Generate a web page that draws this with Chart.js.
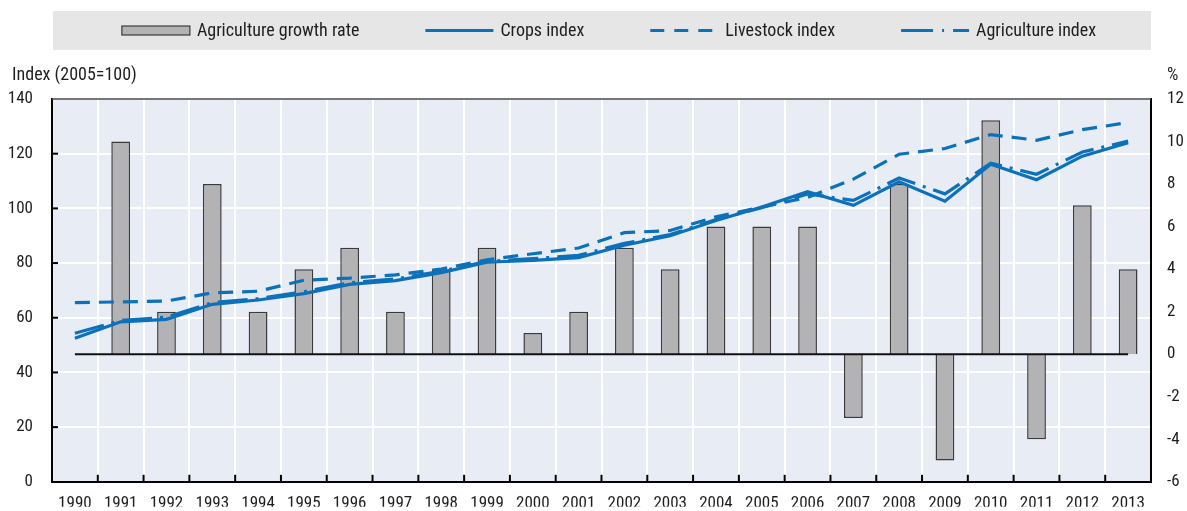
<!DOCTYPE html>
<html>
<head>
<meta charset="utf-8">
<script src="https://cdn.jsdelivr.net/npm/chart.js@4.4.1/dist/chart.umd.min.js"></script>
<style>
  html, body { margin: 0; padding: 0; background: #ffffff; }
  #wrap { width: 1187px; height: 511px; }
</style>
</head>
<body>
<div id="wrap"><canvas id="c" width="1187" height="511"></canvas></div>
<script>
// ---- Data ----
const years = ['1990','1991','1992','1993','1994','1995','1996','1997','1998','1999','2000','2001',
               '2002','2003','2004','2005','2006','2007','2008','2009','2010','2011','2012','2013'];
const growthRate = [null, 10, 2, 8, 2, 4, 5, 2, 4, 5, 1, 2, 5, 4, 6, 6, 6, -3, 8, -5, 11, -4, 7, 4];
const cropsIndex = [52.5, 58.5, 59.4, 64.9, 66.5, 68.8, 72.2, 73.6, 76.5, 80.3, 81.0, 82.0,
                    86.5, 90.0, 95.6, 100.5, 106.1, 101.1, 109.7, 102.6, 116.1, 110.5, 119.1, 124.0];
const livestockIndex = [65.5, 65.8, 66.1, 69.1, 69.7, 73.7, 74.5, 75.7, 77.8, 81.2, 83.4, 85.5,
                        91.1, 91.9, 96.9, 100.5, 104.0, 110.7, 119.8, 121.9, 127.0, 124.9, 128.8, 131.4];
const agricultureIndex = [54.3, 59.0, 60.2, 65.5, 67.0, 69.5, 72.8, 74.2, 77.0, 80.6, 81.6, 82.8,
                          87.2, 90.4, 95.9, 100.2, 105.3, 102.9, 111.1, 105.3, 116.5, 112.5, 120.6, 124.6];
const zeroLine = years.map(() => 0);
const leftTitle = 'Index (2005=100)';
const rightTitle = '%';

// ---- Styles ----
const FONT = "Roboto, 'Liberation Sans', sans-serif";
const STRETCH = 'condensed';
const BLUE = '#0b71bb';
const PLOT_BG = '#e8ecf5';
const TEXT = '#1e1e1e';

const framePlugin = {
  id: 'frame',
  beforeDraw(chart) {
    const c = chart.ctx, a = chart.chartArea;
    c.save();
    c.fillStyle = PLOT_BG;
    c.fillRect(a.left, a.top, a.right - a.left, a.bottom - a.top);
    c.restore();
  },
  afterDraw(chart) {
    const c = chart.ctx, a = chart.chartArea;
    const xs = chart.scales.x, ys = chart.scales.y;
    c.save();
    // top frame
    c.strokeStyle = '#4a4a4a';
    c.lineWidth = 1.5;
    c.beginPath(); c.moveTo(a.left, a.top); c.lineTo(a.right, a.top); c.stroke();
    // inward ticks
    c.strokeStyle = '#000';
    c.lineWidth = 2;
    for (let i = 1; i < years.length; i++) {
      const px = (xs.getPixelForValue(i - 1) + xs.getPixelForValue(i)) / 2;
      c.beginPath(); c.moveTo(px, a.bottom); c.lineTo(px, a.bottom - 7); c.stroke();
    }
    ys.ticks.forEach(t => {
      const py = ys.getPixelForValue(t.value);
      if (py > a.top + 1 && py < a.bottom - 1) {
        c.beginPath(); c.moveTo(a.left, py); c.lineTo(a.left + 6, py); c.stroke();
      }
    });
    // axis titles
    c.fillStyle = TEXT;
    c.font = STRETCH + ' 18px ' + FONT;
    c.textBaseline = 'middle';
    c.textAlign = 'left';
    c.fillText(leftTitle, 12, 75);
    c.fillText(rightTitle, a.right + 16, 75);

    // legend
    const items = chart.data.datasets.filter(d => !d.hideInLegend);
    c.fillStyle = '#e6e6e6';
    c.fillRect(a.left + 1, 11, a.right - a.left - 1, 39);
    const iconW = 68, gap = 7, itemGap = 66;
    c.font = STRETCH + ' 18px ' + FONT;
    const widths = items.map(d => iconW + gap + c.measureText(d.label).width);
    const total = widths.reduce((s, w) => s + w, 0) + itemGap * (items.length - 1);
    let x = 609 - total / 2;
    const cy = 30.5;
    items.forEach((d, i) => {
      if (d.type === 'bar') {
        c.fillStyle = d.backgroundColor;
        c.fillRect(x, cy - 4.5, iconW, 9);
        c.strokeStyle = d.borderColor;
        c.lineWidth = 1.2;
        c.strokeRect(x, cy - 4.5, iconW, 9);
      } else {
        c.strokeStyle = d.borderColor;
        c.lineWidth = d.borderWidth;
        c.setLineDash(d.legendDash || d.borderDash || []);
        c.beginPath(); c.moveTo(x, cy); c.lineTo(x + iconW, cy); c.stroke();
        c.setLineDash([]);
      }
      c.fillStyle = TEXT;
      c.textAlign = 'left';
      c.fillText(d.label, x + iconW + gap, cy + 1);
      x += widths[i] + itemGap;
    });
    c.restore();
  }
};

Chart.defaults.font.family = FONT;
Chart.defaults.font.weight = STRETCH;
Chart.defaults.font.size = 17;
Chart.defaults.color = TEXT;

new Chart(document.getElementById('c'), {
  data: {
    labels: years,
    datasets: [
      {
        type: 'bar', label: 'Agriculture growth rate', data: growthRate, yAxisID: 'y1',
        backgroundColor: '#b3b3b6', borderColor: '#3a3a3a', borderWidth: 1.5,
        barPercentage: 0.41, categoryPercentage: 1, order: 5
      },
      {
        type: 'line', label: 'Crops index', data: cropsIndex, yAxisID: 'y',
        borderColor: BLUE, borderWidth: 3.2, pointRadius: 0, tension: 0, fill: false, order: 1
      },
      {
        type: 'line', label: 'Livestock index', data: livestockIndex, yAxisID: 'y',
        borderColor: BLUE, borderWidth: 3.2, borderDash: [15, 9], legendDash: [14, 10],
        pointRadius: 0, tension: 0, fill: false, order: 3
      },
      {
        type: 'line', label: 'Agriculture index', data: agricultureIndex, yAxisID: 'y',
        borderColor: BLUE, borderWidth: 3.2, borderDash: [30, 8, 3, 8], legendDash: [32, 9, 2, 9],
        pointRadius: 0, tension: 0, fill: false, order: 2
      },
      {
        type: 'line', label: 'zero', data: zeroLine, yAxisID: 'y1', hideInLegend: true,
        borderColor: '#111', borderWidth: 2, pointRadius: 0, tension: 0, fill: false, order: 4
      }
    ]
  },
  options: {
    responsive: false,
    animation: false,
    devicePixelRatio: 1,
    layout: { padding: { top: 99, left: 0, right: 0, bottom: 0 } },
    plugins: { legend: { display: false }, tooltip: { enabled: false }, title: { display: false } },
    scales: {
      x: {
        type: 'category', offset: true,
        grid: { offset: true, color: '#ffffff', lineWidth: 2, drawTicks: false },
        border: { display: true, color: '#000', width: 2 },
        ticks: { padding: 12, maxRotation: 0, autoSkip: false },
        afterFit: s => { s.height = 25; }
      },
      y: {
        position: 'left', min: 0, max: 140,
        grid: { color: '#ffffff', lineWidth: 2, drawTicks: false },
        border: { display: true, color: '#000', width: 2 },
        ticks: { stepSize: 20, padding: 19 },
        afterFit: s => { s.width = 52; }
      },
      y1: {
        position: 'right', min: -6, max: 12,
        grid: { display: false, drawTicks: false },
        border: { display: true, color: '#000', width: 2 },
        ticks: { stepSize: 2, padding: 16 },
        afterFit: s => { s.width = 36; }
      }
    }
  },
  plugins: [framePlugin]
});
</script>
</body>
</html>
